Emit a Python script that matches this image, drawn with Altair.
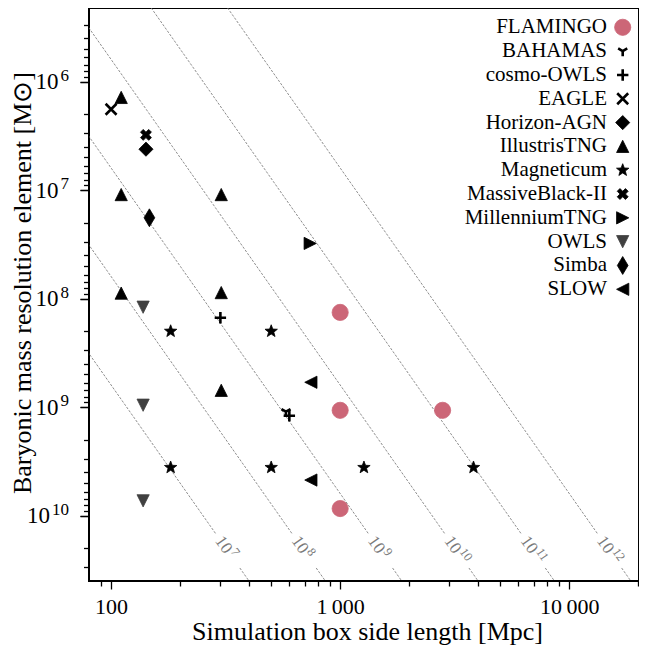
import math
import altair as alt
import pandas as pd

FONT = "Liberation Serif"

# ---------------- data ----------------
series_order = ["FLAMINGO", "BAHAMAS", "cosmo-OWLS", "EAGLE", "Horizon-AGN", "IllustrisTNG",
                "Magneticum", "MassiveBlack-II", "MillenniumTNG", "OWLS", "Simba", "SLOW"]

pt_series = ["FLAMINGO", "FLAMINGO", "FLAMINGO", "FLAMINGO",
             "BAHAMAS",
             "cosmo-OWLS", "cosmo-OWLS",
             "EAGLE",
             "Horizon-AGN",
             "IllustrisTNG", "IllustrisTNG", "IllustrisTNG", "IllustrisTNG", "IllustrisTNG", "IllustrisTNG",
             "Magneticum", "Magneticum", "Magneticum", "Magneticum", "Magneticum", "Magneticum",
             "MassiveBlack-II",
             "MillenniumTNG",
             "OWLS", "OWLS", "OWLS",
             "Simba",
             "SLOW", "SLOW"]
pt_box = [1000, 1000, 1000, 2800,
          580,
          300, 600,
          100,
          142,
          110.7, 110.7, 110.7, 302.6, 302.6, 302.6,
          182, 182, 500, 500, 1270, 3820,
          142,
          740,
          138, 138, 138,
          147,
          745, 745]
pt_mass = [1.34e8, 1.07e9, 8.6e9, 1.07e9,
           1.1e9,
           1.5e8, 1.2e9,
           1.8e6,
           4.2e6,
           1.4e6, 1.1e7, 8.9e7, 1.1e7, 8.8e7, 7.0e8,
           2.0e8, 3.6e9, 2.0e8, 3.6e9, 3.6e9, 3.6e9,
           3.1e6,
           3.1e7,
           1.2e8, 9.6e8, 7.3e9,
           1.8e7,
           5.9e8, 4.7e9]

# reference lines of constant particle number
n_particles = [1e7, 1e8, 1e9, 1e10, 1e11, 1e12]
n_exponents = ["7", "8", "9", "10", "11", "12"]
RHO_B = 6.25e9  # baryon density [Msun / Mpc^3]

# ---------------- styles ----------------
def star_path():
    pts = []
    for k in range(10):
        ang = math.radians(-90 + 36 * k)
        r = 1.0 if k % 2 == 0 else 0.42
        pts.append(f"{r*math.cos(ang):.3f},{r*math.sin(ang):.3f}")
    return "M" + "L".join(pts) + "Z"

shape_map = {
    "FLAMINGO": "circle",
    "BAHAMAS": "M0,0L0,1M0,0L-0.866,-0.5M0,0L0.866,-0.5",
    "cosmo-OWLS": "M-1,0L1,0M0,-1L0,1",
    "EAGLE": "M-1,-1L1,1M-1,1L1,-1",
    "Horizon-AGN": "M0,-1L1,0L0,1L-1,0Z",
    "IllustrisTNG": "M0,-1L1,1L-1,1Z",
    "Magneticum": star_path(),
    "MassiveBlack-II": "M-1,-0.5L-0.5,-1L0,-0.5L0.5,-1L1,-0.5L0.5,0L1,0.5L0.5,1L0,0.5L-0.5,1L-1,0.5L-0.5,0Z",
    "MillenniumTNG": "M1,0L-1,-1L-1,1Z",
    "OWLS": "M0,1L1,-1L-1,-1Z",
    "Simba": "M0,-1L0.6,0L0,1L-0.6,0Z",
    "SLOW": "M-1,0L1,-1L1,1Z",
}
color_map = {s: "black" for s in series_order}
color_map["FLAMINGO"] = "#CC6677"
color_map["OWLS"] = "#404040"
size_map = {
    "FLAMINGO": 262, "BAHAMAS": 110, "cosmo-OWLS": 130, "EAGLE": 120, "Horizon-AGN": 200,
    "IllustrisTNG": 150, "Magneticum": 170, "MassiveBlack-II": 120, "MillenniumTNG": 150,
    "OWLS": 150, "Simba": 320, "SLOW": 150,
}
stroked = ["BAHAMAS", "cosmo-OWLS", "EAGLE"]

shape_scale = alt.Scale(domain=series_order, range=[shape_map[s] for s in series_order])
color_scale = alt.Scale(domain=series_order, range=[color_map[s] for s in series_order])
size_scale = alt.Scale(type="ordinal", domain=series_order, range=[size_map[s] for s in series_order])

XDOM = [80.1, 20160]
YDOM = [2.1e5, 4.0e10]
xscale = alt.Scale(type="log", domain=XDOM, nice=False)
yscale = alt.Scale(type="log", domain=YDOM, nice=False, reverse=True)

# ---------------- tables ----------------
pts = pd.DataFrame({"series": pt_series, "L": pt_box, "m": pt_mass})

M_GAP_TOP = 10 ** 10.169
M_GAP_BOT = 10 ** 10.482
M_LABEL = 10 ** 10.325
rows = []
lab_rows = []
for n, ex in zip(n_particles, n_exponents):
    def L_of(m):
        return (m * n / RHO_B) ** (1.0 / 3.0)
    for seg, (m0, m1) in enumerate([(1e3, M_GAP_TOP), (M_GAP_BOT, 1e12)]):
        gid = f"{ex}-{seg}"
        rows.append({"g": gid, "L": L_of(m0), "m": m0, "o": 0})
        rows.append({"g": gid, "L": L_of(m1), "m": m1, "o": 1})
    lab_rows.append({"base": "10", "exp": ex, "L": L_of(M_LABEL), "m": M_LABEL})
lines_df = pd.DataFrame(rows)
labels_df = pd.DataFrame(lab_rows)

legend_df = pd.DataFrame({"series": series_order, "row": list(range(len(series_order)))})

# ---------------- axes ----------------
major_x = [100, 1000, 10000]
minor_x = [k * 10 ** d for d in range(1, 5) for k in range(2, 10) if XDOM[0] <= k * 10 ** d <= XDOM[1]]
major_y_short = [1e6, 1e7, 1e8, 1e9]   # one-digit exponents
major_y_long = [1e10]                   # two-digit exponent
major_y = major_y_short + major_y_long
minor_y = [k * 10 ** d for d in range(5, 11) for k in range(2, 10) if YDOM[0] <= k * 10 ** d < YDOM[1]]

x_label_expr = "datum.value == 1000 ? '1\u2009000' : datum.value == 10000 ? '10\u2009000' : datum.label"
y_exp_expr = "'' + round(log(datum.value) / LN10)"

axis_common = dict(grid=False, domain=False, tickColor="black", tickWidth=1.3,
                   labelFont=FONT, titleFont=FONT, labelColor="black", titleColor="black",
                   titleFontWeight="normal")

x_major_axis = alt.Axis(orient="bottom", values=major_x, labelExpr=x_label_expr, tickSize=8,
                        labelFontSize=22, labelPadding=7,
                        title="Simulation box side length [Mpc]", titleFontSize=26,
                        titleX=278, titleY=58, titleBaseline="alphabetic", titleAlign="center",
                        **axis_common)
y_base_axis = alt.Axis(orient="left", values=major_y_short, labelExpr="'10'", tickSize=9,
                       labelFontSize=23, labelPadding=22, labelAlign="right", labelBaseline="middle",
                       title="Baryonic mass resolution element [M⊙]", titleFontSize=26,
                       titleX=-67, titleY=274.5, titleAngle=-90, titleBaseline="middle",
                       titleAlign="center", **axis_common)
y_base_long_axis = alt.Axis(orient="left", values=major_y_long, labelExpr="'10'", tickSize=9,
                            labelFontSize=23, labelPadding=30.5, labelAlign="right",
                            labelBaseline="middle", title=None, **axis_common)
y_exp_axis = alt.Axis(orient="left", values=major_y, labelExpr=y_exp_expr, tickSize=9,
                      labelFontSize=17, labelPadding=11.5, labelAlign="right", labelBaseline="middle",
                      labelOffset=-6.2, title=None, **axis_common)
x_minor_axis = alt.Axis(orient="bottom", values=minor_x, labels=False, tickSize=5, title=None,
                        **axis_common)
y_minor_axis = alt.Axis(orient="left", values=minor_y, labels=False, tickSize=5.5, title=None,
                        **axis_common)

# ---------------- layers ----------------
LINE_GREY = "#7a7a7a"
ANGLE = math.degrees(math.atan(3 * 108.5 / 229))

lines = alt.Chart(lines_df).mark_line(
    color=LINE_GREY, strokeWidth=0.85, strokeDash=[2.5, 1.5], clip=True
).encode(
    x=alt.X("L:Q", scale=xscale, axis=x_minor_axis),
    y=alt.Y("m:Q", scale=yscale, axis=y_minor_axis),
    detail="g:N",
    order="o:Q",
)

label_base = alt.Chart(labels_df).mark_text(
    font=FONT, fontSize=17, color=LINE_GREY, angle=ANGLE, align="right", baseline="middle", dx=1
).encode(
    x=alt.X("L:Q", scale=xscale, axis=None),
    y=alt.Y("m:Q", scale=yscale, axis=y_base_long_axis),
    text="base:N",
)
label_exp = alt.Chart(labels_df).mark_text(
    font=FONT, fontSize=12.5, color=LINE_GREY, angle=ANGLE, align="left", baseline="middle",
    dx=2, dy=-5.5
).encode(
    x=alt.X("L:Q", scale=xscale, axis=None),
    y=alt.Y("m:Q", scale=yscale, axis=None),
    text="exp:N",
)

def point_layer(df, x_enc, y_enc, filled):
    base = alt.Chart(df).transform_filter(
        alt.FieldOneOfPredicate(field="series", oneOf=[s for s in series_order if (s in stroked) != filled])
    )
    enc = dict(
        x=x_enc, y=y_enc,
        shape=alt.Shape("series:N", scale=shape_scale, legend=None),
        color=alt.Color("series:N", scale=color_scale, legend=None),
        size=alt.Size("series:N", scale=size_scale, legend=None),
    )
    if filled:
        return base.mark_point(filled=True, opacity=1, strokeWidth=0.8).encode(
            stroke=alt.Stroke("series:N", scale=color_scale, legend=None), **enc)
    return base.mark_point(filled=False, opacity=1, strokeWidth=2.6).encode(**enc)

pts_filled = point_layer(pts, alt.X("L:Q", scale=xscale, axis=x_major_axis),
                         alt.Y("m:Q", scale=yscale, axis=y_base_axis), True)
pts_stroked = point_layer(pts, alt.X("L:Q", scale=xscale, axis=None),
                          alt.Y("m:Q", scale=yscale, axis=y_exp_axis), False)

leg_y = alt.Y("row:Q", scale=alt.Scale(domain=[0, 11], range=[19.3, 281.3]), axis=None)
leg_filled = point_layer(legend_df, alt.value(533.7), leg_y, True)
leg_stroked = point_layer(legend_df, alt.value(533.7), leg_y, False)
leg_text = alt.Chart(legend_df).mark_text(
    font=FONT, fontSize=21, color="black", align="right", baseline="middle"
).encode(x=alt.value(518), y=leg_y, text="series:N")

chart = alt.layer(
    lines, label_base, label_exp, pts_filled, pts_stroked, leg_text, leg_filled, leg_stroked
).resolve_scale(
    x="independent", y="independent"
).properties(
    width=550, height=573,
    autosize=alt.AutoSizeParams(type="none"),
    padding={"left": 81, "top": 0, "right": 0, "bottom": 64},
).configure_view(
    stroke="black", strokeWidth=2
)

chart.save("out.html", embed_options={"renderer": "svg", "actions": False})
